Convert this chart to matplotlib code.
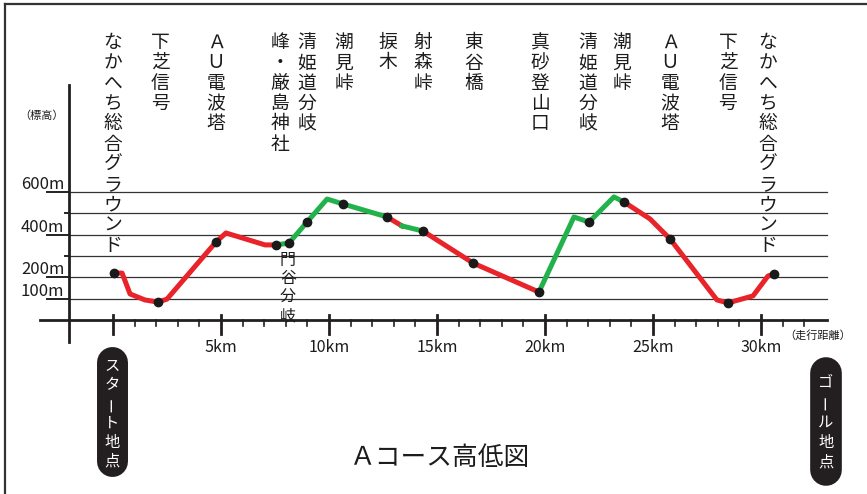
import numpy as np
import matplotlib.pyplot as plt

plt.rcParams['font.family'] = ['Noto Sans CJK JP', 'DejaVu Sans']

# コースの形 (走行距離 km, 標高 m)
dist = [0.05, 0.42, 0.79, 1.48, 2.08, 2.50, 4.77, 5.23, 7.04, 7.55,
        8.15, 8.98, 9.91, 10.65, 12.69, 13.38, 14.35, 16.67, 19.72, 21.34,
        22.04, 23.19, 23.66, 24.86, 25.79, 27.96, 28.47, 29.63, 30.32, 30.60]
elev = [220, 220, 122, 94, 84, 98, 366, 408, 352, 352,
        361, 459, 567, 544, 483, 441, 417, 267, 131, 483,
        459, 577, 553, 474, 380, 94, 80, 113, 206, 216]

# 緑の区間 (km)
green_sections = [(7.55, 12.69), (13.38, 14.35), (19.72, 23.66)]

# 通過ポイント
point_km = [0.05, 2.08, 4.77, 7.55, 8.15, 8.98, 10.65, 12.69, 14.35, 16.67,
            19.72, 22.04, 23.66, 25.79, 28.47, 30.60]
point_m = [220, 84, 366, 352, 361, 459, 544, 483, 417, 267,
           131, 459, 553, 380, 80, 216]

names_top = ['なかへち総合グラウンド', '下芝信号', 'ＡＵ電波塔', '峰・厳島神社',
             '清姫道分岐', '潮見峠', '捩木', '射森峠', '東谷橋', '真砂登山口',
             '清姫道分岐', '潮見峠', 'ＡＵ電波塔', '下芝信号', 'なかへち総合グラウンド']
names_km = [0.0, 2.18, 4.77, 7.73, 8.98, 10.69, 12.73, 14.35, 16.71, 19.77,
            21.99, 23.56, 25.79, 28.47, 30.32]
name_below = '門谷分岐'
name_below_km = 8.1

km_ticks = [0, 5, 10, 15, 20, 25, 30]
km_labels = ['', '5km', '10km', '15km', '20km', '25km', '30km']
grid_m = [100, 200, 300, 400, 500, 600]
m_labels = {600: '600m', 400: '400m', 200: '200m', 100: '100m'}

RED = '#e8242a'
GREEN = '#22b24c'
INK = '#231f20'
TXT = '#1c1c1c'

# 画素との対応
W, H = 867, 494
X0, PX_KM = 113, 21.6
Y0, PX_M = 320, 0.2133

fig = plt.figure(figsize=(W / 100, H / 100), dpi=100)
ax = fig.add_axes([0, 0, 1, 1])
ax.set_xlim(-X0 / PX_KM, (W - X0) / PX_KM)
ax.set_ylim(-(H - Y0) / PX_M, Y0 / PX_M)
ax.axis('off')

# 枠
ax.plot([0.006, 0.006], [0, 0.992], color='#333333', lw=1.6, transform=ax.transAxes)
ax.plot([0.006, 1.0], [0.992, 0.992], color='#333333', lw=1.6, transform=ax.transAxes)

x_left = -3.38
x_axis = -2.04
x_right = 33.06

# 目盛り線
for m in grid_m:
    ax.plot([x_axis, x_right], [m, m], color='#333333', lw=0.9, zorder=1)
    if m in m_labels:
        ax.plot([-3.06, x_axis], [m, m], color='#222222', lw=1.4, zorder=1)
        ax.text(-2.25, m + 14, m_labels[m], ha='right', va='baseline',
                fontsize=12, color=TXT)
    else:
        ax.plot([-2.2, x_axis], [m, m], color='#222222', lw=1.4, zorder=1)

# 軸
ax.plot([x_left, x_right], [0, 0], color=INK, lw=2.0, zorder=2)
ax.plot([x_axis, x_axis], [-103, 1103], color=INK, lw=2.0, zorder=2)
for k, lab in zip(km_ticks, km_labels):
    ax.plot([k, k], [23, -66], color=INK, lw=2.0, zorder=2)
    if lab:
        ax.text(k, -129, lab, ha='center', va='center', fontsize=11.5, color=TXT)
for k in range(1, 33):
    if k % 5:
        ax.plot([k, k], [0, -28], color=INK, lw=1.2, zorder=2)

ax.text(-3.29, 956, '（標高）', ha='center', va='center', fontsize=8, color=TXT)
ax.text(32.6, -70, '（走行距離）', ha='center', va='center', fontsize=8, color=TXT)

# 高低線
def seg_color(a, b):
    mid = (a + b) / 2
    for s, e in green_sections:
        if s <= mid <= e:
            return GREEN
    return RED

run_x, run_y = [dist[0]], [elev[0]]
cur = seg_color(dist[0], dist[1])
for i in range(1, len(dist)):
    c = seg_color(dist[i - 1], dist[i])
    if c != cur:
        ax.plot(run_x, run_y, color=cur, lw=3.6, solid_joinstyle='round', zorder=3)
        run_x, run_y = [dist[i - 1]], [elev[i - 1]]
        cur = c
    run_x.append(dist[i])
    run_y.append(elev[i])
ax.plot(run_x, run_y, color=cur, lw=3.6, solid_joinstyle='round', zorder=3)

ax.plot(point_km, point_m, 'o', color='#1a1a1a', ms=6, zorder=4)

# 地点名 (縦書き)
def vtext(s, x, y, size, pitch, color=TXT):
    for i, ch in enumerate(s):
        rot = 90 if ch == 'ー' else 0
        ax.annotate(ch, xy=(x, y), xytext=(0, -i * pitch), textcoords='offset points',
                    ha='center', va='center', fontsize=size, color=color,
                    rotation=rot, zorder=6)

for name, k in zip(names_top, names_km):
    vtext(name, k, 1300, 13.5, 14.6)
vtext(name_below, name_below_km, 279, 11.5, 13.2)

# スタート・ゴール
ax.plot([-0.05, -0.05], [-195, -659], color=INK, lw=22.3, solid_capstyle='round', zorder=5)
ax.plot([33.0, 33.0], [-248, -703], color=INK, lw=22.8, solid_capstyle='round', zorder=5)
vtext('スタート地点', -0.05, -216, 11, 13.7, color='white')
vtext('ゴール地点', 33.0, -291, 11, 14.4, color='white')

ax.text(15.14, -647, 'Ａコース高低図', ha='center', va='center', fontsize=18.5, color=TXT)

fig.savefig('out.png', dpi=100)
